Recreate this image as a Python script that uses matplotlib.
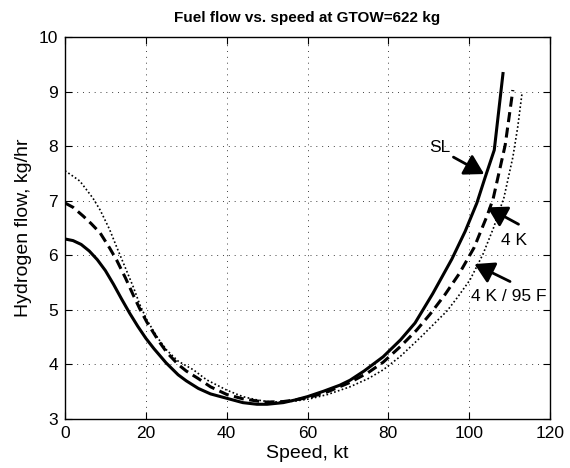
import matplotlib
matplotlib.use("Agg")
import matplotlib.pyplot as plt

plt.rcParams["font.family"] = ["Liberation Sans", "DejaVu Sans"]

# --- data ---
speed_sl = [0, 2, 4, 6, 8, 10, 12, 14, 16, 18, 20, 22, 25, 28, 30, 33, 36, 40,
            44, 47.5, 50, 54, 57, 60, 64, 68, 70.5, 74, 78.7, 83, 86.6, 91,
            95.7, 99, 101.9, 103.9, 106.2, 108.4]
flow_sl = [6.30, 6.27, 6.20, 6.08, 5.92, 5.72, 5.47, 5.20, 4.94, 4.70, 4.48,
           4.29, 4.03, 3.81, 3.70, 3.56, 3.46, 3.38, 3.30, 3.27, 3.27, 3.30,
           3.35, 3.41, 3.51, 3.62, 3.71, 3.88, 4.14, 4.45, 4.76, 5.30, 5.93,
           6.44, 6.96, 7.42, 7.93, 9.36]

speed_4k = [0, 2, 4.5, 6.5, 8.7, 11, 12.8, 15, 16.9, 18.5, 20.3, 23, 25.2, 28,
            30, 33, 36, 40, 44, 47.5, 50, 54, 57, 60.6, 65, 70.5, 75, 78.7, 83,
            87, 90.3, 94, 97.5, 101.2, 104.4, 105.9, 108.9, 110.8]
flow_4k = [6.96, 6.88, 6.72, 6.58, 6.41, 6.14, 5.91, 5.58, 5.27, 5.02, 4.77,
           4.45, 4.22, 4.00, 3.88, 3.74, 3.59, 3.45, 3.37, 3.33, 3.31, 3.32,
           3.35, 3.40, 3.50, 3.67, 3.85, 4.04, 4.33, 4.63, 4.92, 5.28, 5.66,
           6.14, 6.72, 7.03, 8.02, 9.03]

speed_95f = [0, 2, 3.7, 6.9, 8.7, 11, 12.8, 15, 16.9, 18.5, 20.3, 23, 25.2, 28,
             31.8, 35, 40, 44, 47.5, 50, 54, 57, 60.6, 65, 70.5, 75, 78.7, 83,
             88, 94.5, 97, 100.2, 103.4, 106, 108.6, 110.8, 112, 113.1]
flow_95f = [7.55, 7.45, 7.36, 7.05, 6.83, 6.48, 6.15, 5.76, 5.42, 5.10, 4.81,
            4.48, 4.26, 4.06, 3.90, 3.72, 3.53, 3.41, 3.35, 3.32, 3.31, 3.33,
            3.37, 3.45, 3.59, 3.74, 3.90, 4.15, 4.50, 4.98, 5.22, 5.55, 6.02,
            6.50, 7.06, 7.80, 8.35, 8.99]

x_ticks = [0, 20, 40, 60, 80, 100, 120]
y_ticks = [3, 4, 5, 6, 7, 8, 9, 10]

# label text, label position, arrow tail, arrow tip
notes = [
    ("SL", (92.8, 7.97), (96.1, 7.80), (103.7, 7.49)),
    ("4 K", (111.1, 6.28), (112.2, 6.57), (104.5, 6.88)),
    ("4 K / 95 F", (109.8, 5.24), (110.1, 5.52), (101.3, 5.84)),
]

fig = plt.figure(figsize=(5.7, 4.68), dpi=100)
ax = fig.add_axes([0.114, 0.1047, 0.851, 0.816])

ax.plot(speed_sl, flow_sl, color="black", lw=2.2, solid_capstyle="butt")
ax.plot(speed_4k, flow_4k, color="black", lw=2.2, linestyle=(0, (3.3, 1.8)))
ax.plot(speed_95f, flow_95f, color="black", lw=1.2, linestyle=(0, (1, 1.4)))

for label, txt_pos, tail, tip in notes:
    ax.text(txt_pos[0], txt_pos[1], label, fontsize=12.5, ha="center", va="center")
    ax.annotate("", xy=tip, xytext=tail,
                arrowprops=dict(arrowstyle="-|>,head_length=0.65,head_width=0.38",
                                mutation_scale=18, lw=2, color="black",
                                shrinkA=0, shrinkB=0))

ax.set_xlim(0, 120)
ax.set_ylim(3, 10)
ax.set_xticks(x_ticks)
ax.set_yticks(y_ticks)
ax.grid(True, color="0.25", linestyle=(0, (1, 5)), lw=0.7)
ax.tick_params(direction="in", length=5, width=0.8, top=True, right=True,
               labelsize=12.5, pad=5)
for sp in ax.spines.values():
    sp.set_linewidth(1.0)

ax.set_xlabel("Speed, kt", fontsize=14, labelpad=3)
ax.set_ylabel("Hydrogen flow, kg/hr", fontsize=14, labelpad=5)
ax.set_title("Fuel flow vs. speed at GTOW=622 kg", fontsize=11,
             fontweight="bold", pad=11)

fig.savefig("out.png", dpi=100)
